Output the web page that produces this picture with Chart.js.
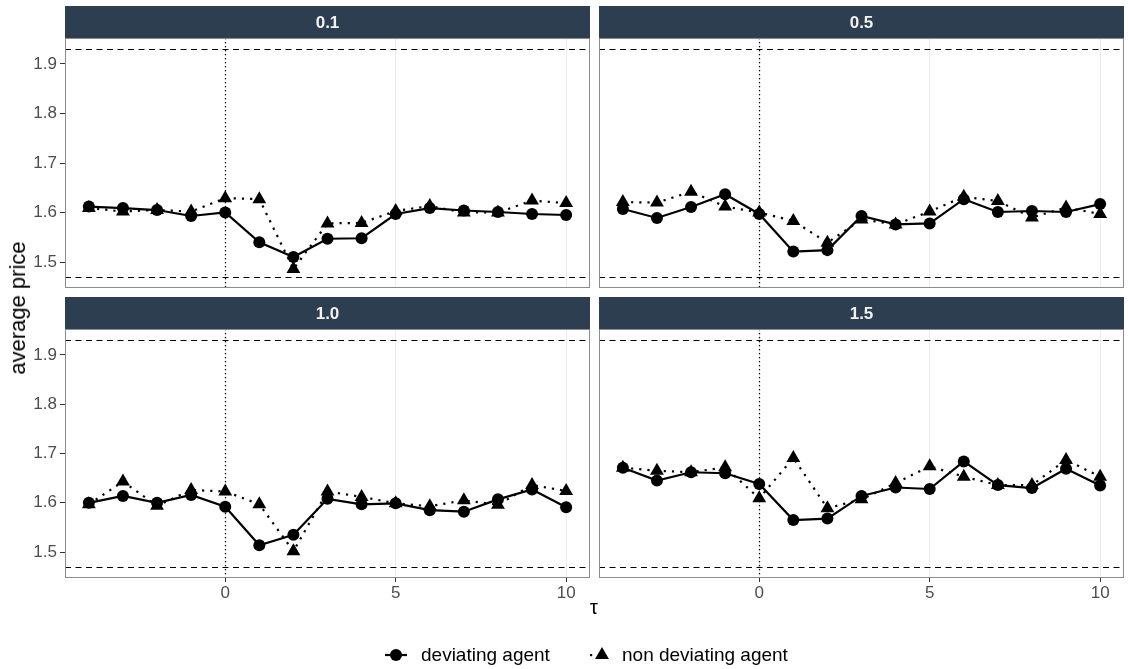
<!DOCTYPE html>
<html>
<head>
<meta charset="utf-8">
<script src="https://cdn.jsdelivr.net/npm/chart.js@4"></script>
<style>
  body { margin: 0; background: #fff; width: 1128px; height: 669px; position: relative; overflow: hidden;
         font-family: "Liberation Sans", Arial, sans-serif; }
  .panel { position: absolute; }
  #ytitle { position: absolute; left: 18px; top: 308px; transform: translate(-50%, -50%) rotate(-90deg);
            font-size: 22px; color: #000; white-space: nowrap; }
  #xtitle { position: absolute; left: 594px; top: 607px; transform: translate(-50%, -50%);
            font-size: 20px; color: #000; }
  #legend { position: absolute; top: 643px; left: 0; width: 1128px; height: 26px; }
  .key { position: absolute; top: 0; }
  .ltext { position: absolute; top: 1px; font-size: 19px; color: #000; white-space: nowrap; }
</style>
</head>
<body>
<canvas id="p01" class="panel"></canvas>
<canvas id="p05" class="panel"></canvas>
<canvas id="p10" class="panel"></canvas>
<canvas id="p15" class="panel"></canvas>
<div id="ytitle">average price</div>
<div id="xtitle">τ</div>
<div id="legend">
  <canvas id="keyDev" class="key" width="30" height="24" style="left:383px"></canvas>
  <span class="ltext" style="left:421px">deviating agent</span>
  <canvas id="keyNon" class="key" width="30" height="24" style="left:587px"></canvas>
  <span class="ltext" style="left:622px">non deviating agent</span>
</div>
<script>
// periods relative to the deviation
const tau = [-4, -3, -2, -1, 0, 1, 2, 3, 4, 5, 6, 7, 8, 9, 10];

// average prices per facet
const dev01 = [1.612, 1.609, 1.605, 1.593, 1.600, 1.540, 1.510, 1.547, 1.548, 1.597, 1.609, 1.604, 1.601, 1.597, 1.595];
const non01 = [1.609, 1.602, 1.605, 1.602, 1.629, 1.627, 1.486, 1.578, 1.579, 1.603, 1.613, 1.600, 1.600, 1.624, 1.619];
const dev05 = [1.607, 1.589, 1.611, 1.637, 1.597, 1.521, 1.524, 1.593, 1.576, 1.578, 1.627, 1.601, 1.603, 1.601, 1.617];
const non05 = [1.621, 1.620, 1.642, 1.612, 1.600, 1.583, 1.539, 1.586, 1.576, 1.602, 1.632, 1.623, 1.590, 1.610, 1.597];
const dev10 = [1.600, 1.614, 1.600, 1.616, 1.592, 1.514, 1.535, 1.608, 1.597, 1.599, 1.585, 1.582, 1.607, 1.627, 1.591];
const non10 = [1.597, 1.643, 1.594, 1.626, 1.623, 1.597, 1.502, 1.623, 1.612, 1.599, 1.593, 1.605, 1.596, 1.636, 1.624];
const dev15 = [1.671, 1.645, 1.662, 1.660, 1.638, 1.565, 1.568, 1.614, 1.631, 1.628, 1.684, 1.636, 1.630, 1.669, 1.635];
const non15 = [1.671, 1.665, 1.662, 1.672, 1.609, 1.691, 1.589, 1.607, 1.640, 1.674, 1.653, 1.636, 1.636, 1.687, 1.653];

const facetLabels = ['0.1', '0.5', '1.0', '1.5'];
const seriesNames = ['deviating agent', 'non deviating agent'];

// reference levels and axis ticks
const lowerLevel = 1.47;
const upperLevel = 1.93;
const xTicks = [0, 5, 10];
const yTicks = [1.5, 1.6, 1.7, 1.8, 1.9];

const FONT = '"Liberation Sans", Arial, sans-serif';
const STRIP = '#2c3e50';
const BORDER = '#8c8c8c';

// strip, panel frame and reference lines
const facetPlugin = {
  id: 'facet',
  beforeDatasetsDraw(chart, args, opts) {
    const { ctx, chartArea: a, scales: { x, y } } = chart;
    ctx.save();
    ctx.beginPath();
    ctx.rect(a.left, a.top, a.right - a.left, a.bottom - a.top);
    ctx.clip();
    ctx.strokeStyle = '#000';
    ctx.lineWidth = 1.2;
    ctx.setLineDash([6, 4.5]);
    [lowerLevel, upperLevel].forEach(v => {
      const py = Math.round(y.getPixelForValue(v)) + 0.5;
      ctx.beginPath(); ctx.moveTo(a.left, py); ctx.lineTo(a.right, py); ctx.stroke();
    });
    ctx.lineWidth = 1.3;
    ctx.setLineDash([1.3, 2.7]);
    const px = Math.round(x.getPixelForValue(0)) + 0.5;
    ctx.beginPath(); ctx.moveTo(px, a.top); ctx.lineTo(px, a.bottom); ctx.stroke();
    ctx.restore();
  },
  afterDraw(chart, args, opts) {
    const { ctx, chartArea: a } = chart;
    ctx.save();
    ctx.strokeStyle = BORDER;
    ctx.lineWidth = 1;
    ctx.strokeRect(a.left + 0.5, a.top + 0.5, a.right - a.left - 1, a.bottom - a.top - 1);
    ctx.fillStyle = STRIP;
    ctx.fillRect(a.left, opts.stripTop, a.right - a.left, a.top - opts.stripTop);
    ctx.fillStyle = '#f2f2f2';
    ctx.font = 'bold 17px ' + FONT;
    ctx.textAlign = 'center';
    ctx.textBaseline = 'middle';
    ctx.fillText(opts.label, (a.left + a.right) / 2, (opts.stripTop + a.top) / 2 + 1);
    ctx.restore();
  }
};

const panels = [
  { id: 'p01', label: facetLabels[0], dev: dev01, non: non01, left: 0,   top: 0,   w: 594, h: 292, showY: true,  showX: false, padTop: 38, padRight: 4, stripTop: 6 },
  { id: 'p05', label: facetLabels[1], dev: dev05, non: non05, left: 594, top: 0,   w: 534, h: 292, showY: false, showX: false, padTop: 38, padRight: 4, stripTop: 6 },
  { id: 'p10', label: facetLabels[2], dev: dev10, non: non10, left: 0,   top: 292, w: 594, h: 330, showY: true,  showX: true,  padTop: 37, padRight: 4, stripTop: 5 },
  { id: 'p15', label: facetLabels[3], dev: dev15, non: non15, left: 594, top: 292, w: 534, h: 330, showY: false, showX: true,  padTop: 37, padRight: 4, stripTop: 5 }
];

const toPoints = vals => tau.map((t, i) => ({ x: t, y: vals[i] }));
const noScalePadding = s => { s.paddingTop = 0; s.paddingBottom = 0; s.paddingLeft = 0; s.paddingRight = 0; };

panels.forEach(p => {
  const el = document.getElementById(p.id);
  el.style.left = p.left + 'px';
  el.style.top = p.top + 'px';
  el.style.width = p.w + 'px';
  el.style.height = p.h + 'px';
  el.width = p.w;
  el.height = p.h;

  new Chart(el, {
    type: 'line',
    data: {
      datasets: [
        {
          label: seriesNames[1],
          data: toPoints(p.non),
          borderColor: '#000', backgroundColor: '#000',
          borderWidth: 2.2, borderDash: [2.2, 6], borderCapStyle: 'butt',
          pointStyle: 'triangle', pointRadius: 8, pointBorderWidth: 0,
          tension: 0
        },
        {
          label: seriesNames[0],
          data: toPoints(p.dev),
          borderColor: '#000', backgroundColor: '#000',
          borderWidth: 2.2,
          pointStyle: 'circle', pointRadius: 6, pointBorderWidth: 0,
          tension: 0
        }
      ]
    },
    options: {
      responsive: false,
      animation: false,
      events: [],
      layout: { autoPadding: false, padding: { top: p.padTop, right: p.padRight, left: 0, bottom: 0 } },
      scales: {
        x: {
          type: 'linear', min: -4.7, max: 10.7,
          afterBuildTicks: s => { s.ticks = xTicks.map(v => ({ value: v })); },
          afterFit: s => { s.height = p.showX ? 44 : 4; noScalePadding(s); },
          border: { display: false },
          grid: { color: '#ebebeb', lineWidth: 1, drawTicks: p.showX, tickLength: 4, tickColor: '#333', tickWidth: 1 },
          ticks: { display: p.showX, color: '#4d4d4d', font: { family: FONT, size: 17 }, padding: 1, maxRotation: 0 }
        },
        y: {
          type: 'linear', min: 1.4475, max: 1.9525,
          afterBuildTicks: s => { s.ticks = yTicks.map(v => ({ value: v })); },
          afterFit: s => { s.width = p.showY ? 65 : 5; noScalePadding(s); },
          border: { display: false },
          grid: { drawOnChartArea: false, drawTicks: p.showY, tickLength: 5, tickColor: '#333', tickWidth: 1 },
          ticks: { display: p.showY, color: '#4d4d4d', font: { family: FONT, size: 17 }, padding: 3,
                   callback: v => v.toFixed(1) }
        }
      },
      plugins: {
        legend: { display: false },
        tooltip: { enabled: false },
        facet: { label: p.label, stripTop: p.stripTop }
      }
    },
    plugins: [facetPlugin]
  });
});

// legend keys
function drawKey(id, dashed, shape) {
  const c = document.getElementById(id).getContext('2d');
  const cy = 12;
  c.strokeStyle = '#000';
  c.fillStyle = '#000';
  c.lineWidth = 2.2;
  if (dashed) {
    c.fillRect(3, cy - 1, 2.2, 2.2);
  } else {
    c.beginPath(); c.moveTo(2, cy); c.lineTo(24, cy); c.stroke();
  }
  c.beginPath();
  if (shape === 'circle') {
    c.arc(13, cy, 6, 0, Math.PI * 2);
  } else {
    const r = 8;
    c.moveTo(15, cy - r);
    c.lineTo(15 + r * Math.sin(2 * Math.PI / 3), cy + r / 2);
    c.lineTo(15 - r * Math.sin(2 * Math.PI / 3), cy + r / 2);
    c.closePath();
  }
  c.fill();
}
drawKey('keyDev', false, 'circle');
drawKey('keyNon', true, 'triangle');
</script>
</body>
</html>
